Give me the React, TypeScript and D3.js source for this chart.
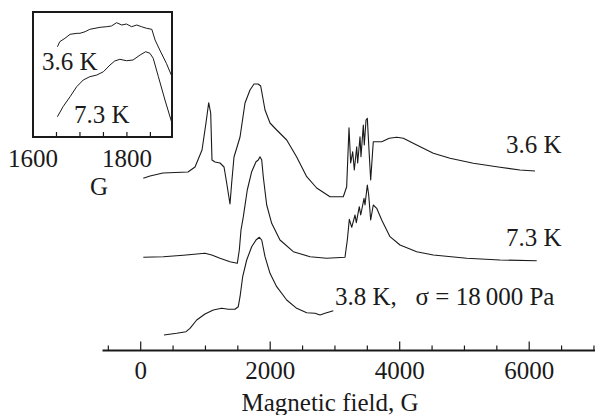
import React from "react";
import * as d3 from "d3";

// Main spectra: [magnetic field (G), signal (arb. units, offset per trace)]
const trace36K: [number, number][] = [
  [40, 171.7], [144, 174], [344, 177], [730, 178], [839, 183], [947, 200], [1008, 227],
  [1050, 247.3], [1081, 237], [1101, 190], [1148, 188], [1225, 187], [1287, 183],
  [1328, 167], [1379, 146], [1405, 167], [1441, 193], [1483, 202], [1534, 213],
  [1611, 247], [1688, 260], [1750, 266], [1812, 266], [1853, 264], [1884, 253],
  [1920, 240], [1997, 227], [2100, 220], [2255, 210], [2409, 193], [2564, 173.3],
  [2718, 162], [2924, 153.3], [3129, 153.3], [3181, 163.3], [3217, 222.3], [3243, 187],
  [3274, 198.3], [3299, 180], [3336, 203.3], [3351, 187], [3387, 213.3], [3402, 193.3],
  [3438, 225], [3453, 205], [3480, 230], [3500, 231.7], [3526, 200], [3552, 170],
  [3592, 208.3], [3645, 208.3], [3722, 208.3], [3839, 211.7], [3954, 212.7],
  [4056, 211.7], [4263, 205], [4519, 196.7], [4777, 191.7], [5137, 186.7],
  [5549, 182.7], [5858, 180], [6090, 179],
];

const trace73K: [number, number][] = [
  [40, 92.7], [349, 93.3], [658, 94.7], [993, 96.7], [1097, 95], [1225, 91.7],
  [1379, 88.3], [1492, 86.7], [1523, 100], [1549, 120], [1585, 133.3], [1646, 160],
  [1714, 178.3], [1781, 188.3], [1816, 190], [1842, 193.3], [1869, 190], [1893, 173.3],
  [1946, 145], [2023, 126.7], [2151, 110], [2357, 98.3], [2615, 93.3], [2873, 91.7],
  [3155, 92.7], [3191, 110], [3222, 130.7], [3259, 122.7], [3310, 135], [3330, 127.3],
  [3376, 143.3], [3398, 135], [3449, 151.7], [3464, 145], [3500, 165], [3521, 155],
  [3552, 130], [3592, 145], [3645, 141.7], [3722, 130], [3850, 113.3], [4005, 105],
  [4263, 98.3], [4519, 95], [5035, 91.7], [5549, 90], [6116, 89.3],
];

const trace38K: [number, number][] = [
  [360, 15], [556, 16.7], [700, 18.3], [761, 21.7], [865, 30], [993, 36], [1121, 40],
  [1251, 41.7], [1353, 40.7], [1456, 40.7], [1507, 43.3], [1534, 53.3], [1575, 73.3],
  [1637, 90], [1714, 103.3], [1781, 110], [1832, 112.7], [1869, 110], [1920, 93.3],
  [1997, 76.7], [2100, 63.3], [2255, 50], [2409, 41.7], [2564, 37.3], [2692, 36.7],
  [2769, 35], [2846, 36.7], [2924, 38.3], [2975, 39.3],
];

// Inset (zoom 1600–1900 G)
const inset36K: [number, number][] = [
  [1652, 90.3], [1657, 95.3], [1668, 98.7], [1679, 102.7], [1694, 103.7], [1700, 103.7],
  [1711, 105.3], [1721, 107.7], [1732, 108.7], [1743, 109.7], [1757, 110.3], [1767, 111],
  [1778, 114.3], [1789, 112], [1799, 113], [1810, 110.3], [1821, 112], [1831, 110.3],
  [1842, 108.7], [1853, 107.7], [1860, 97], [1870, 87], [1884, 73.7], [1896, 60.3],
];

const inset73K: [number, number][] = [
  [1652, 20.3], [1664, 30.3], [1679, 40.3], [1693, 50.3], [1707, 57], [1721, 60.3],
  [1736, 62], [1750, 65.3], [1764, 72], [1774, 76], [1785, 77.7], [1799, 76.3],
  [1813, 77], [1828, 82], [1840, 85.3], [1849, 83.7], [1856, 78.7], [1867, 60.3],
  [1881, 37], [1896, 13.7],
];

const mainTicks = d3.range(-500, 7001, 500);
const mainMajorTicks = [0, 2000, 4000, 6000];
const insetTicks = [1650, 1700, 1750, 1800, 1850];
const insetTickLabels = [1600, 1800];

const traceLabels = ["3.6 K", "7.3 K", "3.8 K,\u00a0\u00a0\u00a0\u03c3 = 18\u2009000 Pa"];
const axisTitle = "Magnetic field, G";
const insetAxisTitle = "G";

const FONT = "'Liberation Serif', 'Times New Roman', serif";
const INK = "#1a1a1a";

export default function App() {
  const W = 595, H = 415;
  const x = d3.scaleLinear().domain([0, 6000]).range([140.7, 529.2]);
  const y = d3.scaleLinear().domain([0, 350]).range([350, 0]);
  const axisY = 350.5;

  const line = d3.line<[number, number]>().x((d) => x(d[0])).y((d) => y(d[1]));

  const ix = d3.scaleLinear().domain([1600, 1896]).range([33, 172]);
  const iy = d3.scaleLinear().domain([0, 125]).range([137, 12]);
  const iline = d3.line<[number, number]>().x((d) => ix(d[0])).y((d) => iy(d[1]));

  return (
    <svg
      width={W}
      height={H}
      style={{ position: "fixed", left: 0, top: 0, background: "#fff" }}
      fontFamily={FONT}
    >
      <rect width={W} height={H} fill="#fff" />
      <defs>
        <clipPath id="insetClip">
          <rect x={ix(1600)} y={iy(125)} width={ix(1896) - ix(1600)} height={iy(0) - iy(125)} />
        </clipPath>
      </defs>

      {/* main traces */}
      <g fill="none" stroke={INK} strokeWidth={1.1} strokeLinejoin="round">
        <path d={line(trace36K) || ""} />
        <path d={line(trace73K) || ""} />
        <path d={line(trace38K) || ""} />
      </g>

      {/* trace labels */}
      <g fontSize={25} fill={INK}>
        <text x={506} y={153}>{traceLabels[0]}</text>
        <text x={506} y={246}>{traceLabels[1]}</text>
        <text x={335} y={305}>{traceLabels[2]}</text>
      </g>

      {/* main axis */}
      <line x1={x(-590)} x2={W} y1={axisY} y2={axisY} stroke={INK} strokeWidth={2} />
      {mainTicks.map((t) => {
        const major = mainMajorTicks.includes(t);
        return (
          <line
            key={t}
            x1={x(t)}
            x2={x(t)}
            y1={axisY}
            y2={axisY - (major ? 9 : 5)}
            stroke={INK}
            strokeWidth={1.2}
          />
        );
      })}
      <g fontSize={25} fill={INK} textAnchor="middle">
        {mainMajorTicks.map((t) => (
          <text key={t} x={x(t)} y={379}>{t}</text>
        ))}
        <text x={330} y={411}>{axisTitle}</text>
      </g>

      {/* inset */}
      <g clipPath="url(#insetClip)" fill="none" stroke={INK} strokeWidth={1} strokeLinejoin="round">
        <path d={iline(inset36K) || ""} />
        <path d={iline(inset73K) || ""} />
      </g>
      {insetTicks.map((t) => (
        <line key={t} x1={ix(t)} x2={ix(t)} y1={iy(0)} y2={iy(0) - 5} stroke={INK} strokeWidth={1.2} />
      ))}
      <rect
        x={ix(1600)}
        y={iy(125)}
        width={ix(1896) - ix(1600)}
        height={iy(0) - iy(125)}
        fill="none"
        stroke={INK}
        strokeWidth={2}
      />
      <g fontSize={25} fill={INK}>
        <text x={42} y={70}>{traceLabels[0]}</text>
        <text x={74} y={123}>{traceLabels[1]}</text>
      </g>
      <g fontSize={25} fill={INK} textAnchor="middle">
        {insetTickLabels.map((t) => (
          <text key={t} x={ix(t)} y={167}>{t}</text>
        ))}
        <text x={99} y={195}>{insetAxisTitle}</text>
      </g>
    </svg>
  );
}
